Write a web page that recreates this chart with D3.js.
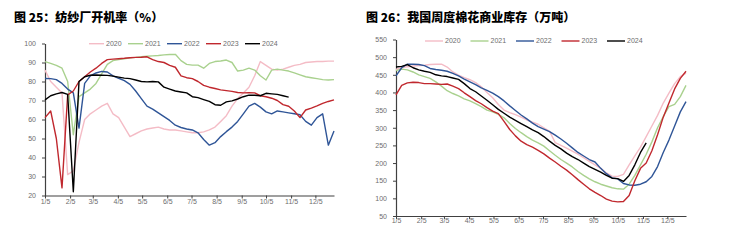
<!DOCTYPE html>
<html lang="zh">
<head>
  <meta charset="UTF-8">
  <title>纺纱厂开机率 / 棉花商业库存</title>
  <style>
    body { margin: 0; background: #fff; }
    svg text { font-family: "Liberation Sans", Arial, sans-serif; }
    .title { font-family: "Noto Sans CJK SC", sans-serif !important; font-weight: 900; font-size: 12px; fill: #000; }
  </style>
</head>
<body>
  <script src="https://d3js.org/d3.v7.min.js"></script>
  <script>
    const years = ["2020", "2021", "2022", "2023", "2024"];
    const colors = ["#f4bcc6", "#a9d18e", "#2f5597", "#c0282e", "#000000"];
    const tickLabels = ["1/5", "2/5", "3/5", "4/5", "5/5", "6/5", "7/5", "8/5", "9/5", "10/5", "11/5", "12/5"];

    // 纺纱厂开机率（%），weekly from 1/5
    const rate2020 = [86, 80, 77, 74, 31, 33, 48, 60, 63, 65, 67, 68.5, 63, 61, 56, 51, 52.5, 54, 55, 55.5, 56, 55, 54.5, 54.5, 54, 53.5,
      53, 53, 53.5, 54.5, 56, 59, 62, 67, 71, 74, 77, 83, 90.5, 88.5, 86.5, 86, 86.5, 87.5, 88.5, 89, 90, 90.3, 90.5, 90.5, 90.7, 90.7];
    const rate2021 = [90.5, 89.5, 88.5, 87, 80, 52, 72, 74, 76, 79, 84, 89, 91, 91.5, 92, 92.5, 92.7, 93, 93.3, 93.5, 93.7, 94, 94.2, 94.3, 91, 89,
      88.6, 88.6, 87, 89.5, 90.5, 90.8, 91.3, 90, 85.5, 86, 87, 86, 83, 80.8, 86, 86.5, 86, 85.5, 84.5, 83.5, 82.5, 82, 81.5, 81, 80.8, 81];
    const rate2022 = [81.6, 81.5, 81, 79, 76, 74, 55.5, 79, 83, 84.5, 85.3, 85, 83, 81.7, 80.5, 78.5, 75, 71, 67, 65.5, 63.5, 61.5, 59.5, 57, 55.8, 55,
      54.5, 53, 49.5, 46.5, 47.8, 51, 53.6, 56, 59, 63, 67, 68.5, 66.5, 64, 63, 64.5, 64, 63.5, 63, 62.5, 59, 57, 61, 63, 46.5, 54];
    const rate2023 = [61, 64.5, 50, 24, 73, 75, 80, 82.5, 85, 87, 89.5, 91.5, 91.8, 92, 92.2, 92.5, 92.7, 92.8, 93, 91.5, 90.5, 90, 88.5, 87.5, 83, 82,
      81.5, 80, 78, 77, 76.3, 75.6, 75.2, 74.8, 74.2, 74, 74.1, 74, 72.5, 72, 71.2, 70, 67.8, 67, 64.5, 61, 65, 66, 67.2, 68.5, 69.5, 70.3];
    const rate2024 = [70.3, 72.5, 73.5, 74.2, 73.2, 22, 80, 82.5, 83.3, 83.4, 83.3, 83.2, 82.8, 82.3, 81.8, 81.5, 80.8, 80, 79.8, 80, 79.8, 77,
      76, 75, 74.5, 74, 72, 71.5, 70.5, 69.5, 67.8, 67.5, 69.3, 69.8, 70.8, 72, 72.8, 72.8, 72.5, 73.8, 73.5, 73.2, 72.5, 71.8];

    // 我国周度棉花商业库存（万吨），weekly from 1/5
    const stock2020 = [465, 470, 473, 475, 476, 477, 479, 480, 480, 472, 458, 449, 442, 436, 428, 416, 400, 385, 366, 350, 343, 337, 330, 322, 316, 310,
      300, 290, 258, 250, 242, 234, 225, 215, 205, 195, 185, 172, 163, 162, 168, 195, 220, 245, 275, 305, 335, 370, 398, 425, 445, 455];
    const stock2021 = [462, 466, 464, 458, 450, 445, 440, 430, 418, 405, 397, 390, 382, 376, 368, 360, 350, 345, 338, 328, 312, 298, 286, 275, 265, 257,
      248, 235, 222, 210, 200, 189, 176, 165, 155, 147, 140, 135, 130, 127, 126, 140, 165, 195, 225, 260, 300, 332, 360, 366, 388, 420];
    const stock2022 = [447, 470, 480, 480, 479, 476, 468, 465, 463, 460, 454, 447, 438, 430, 422, 413, 406, 398, 388, 376, 362, 349, 336, 325, 313, 303,
      296, 289, 279, 268, 256, 243, 230, 220, 210, 203, 185, 170, 158, 155, 142, 138, 137, 140, 147, 162, 190, 230, 265, 305, 345, 374];
    const stock2023 = [393, 420, 427, 429, 428, 425, 425, 424, 423, 424, 418, 411, 399, 388, 377, 368, 357, 347, 340, 318, 295, 277, 262, 252, 245, 236,
      226, 214, 203, 191, 180, 167, 153, 140, 127, 117, 108, 98, 92, 90, 91, 108, 150, 185, 200, 235, 280, 330, 370, 410, 440, 460];
    const stock2024 = [472, 474, 479, 470, 464, 460, 457, 450, 447, 445, 441, 437, 425, 411, 402, 390, 378, 365, 352, 341, 330, 321, 312, 303, 294, 286,
      275, 262, 250, 240, 228, 218, 210, 200, 190, 182, 174, 165, 157, 156, 148, 165, 195, 230, 257];

    const rateYTicks = [20, 30, 40, 50, 60, 70, 80, 90, 100];
    const stockYTicks = [50, 100, 150, 200, 250, 300, 350, 400, 450, 500, 550];

    const width = 744, height = 240;
    const svg = d3.select("body").append("svg").attr("width", width).attr("height", height);

    const start = new Date(2021, 0, 5);
    const weekDate = i => d3.timeDay.offset(start, i * 7);
    const tickDates = tickLabels.map((t, i) => new Date(2021, i, 5));

    function drawChart(opt) {
      const x = d3.scaleTime().domain([start, weekDate(51)]).range([opt.left, opt.right]);
      const y = d3.scaleLinear().domain(opt.yDomain).range([opt.bottom, opt.top]);

      svg.append("text").attr("class", "title")
        .attr("x", opt.titleX).attr("y", 22).text(opt.title);

      const gx = svg.append("g")
        .attr("transform", "translate(0," + opt.bottom + ")")
        .call(d3.axisBottom(x).tickValues(tickDates).tickFormat((d, i) => tickLabels[i]).tickSize(3).tickSizeOuter(0));
      const gy = svg.append("g")
        .attr("transform", "translate(" + opt.left + ",0)")
        .call(d3.axisLeft(y).tickValues(opt.yTicks).tickSize(3).tickSizeOuter(0));
      [gx, gy].forEach(g => {
        g.select(".domain").attr("stroke", "#404040").attr("stroke-width", 1.2);
        g.selectAll(".tick line").attr("stroke", "#404040");
        g.selectAll(".tick text").attr("fill", "#6d6d6d").style("font-size", "7px");
      });
      gx.selectAll(".tick text").attr("y", opt.xLabelY).attr("dy", "0.35em");
      gy.selectAll(".tick text").attr("dx", "-3px");

      const line = d3.line()
        .x((d, i) => x(weekDate(i)))
        .y(d => y(d));

      opt.series.forEach((s, k) => {
        svg.append("path")
          .datum(s)
          .attr("fill", "none")
          .attr("stroke", colors[k])
          .attr("stroke-width", 1.4)
          .attr("stroke-linejoin", "round")
          .attr("d", line);
      });

      const lg = svg.append("g");
      years.forEach((yr, k) => {
        const lx = opt.legendX + k * opt.legendStep;
        lg.append("line")
          .attr("x1", lx).attr("x2", lx + opt.legendLen)
          .attr("y1", opt.legendY).attr("y2", opt.legendY)
          .attr("stroke", colors[k]).attr("stroke-width", 1.4);
        lg.append("text")
          .attr("x", lx + opt.legendLen + 2).attr("y", opt.legendY)
          .attr("dy", "0.35em")
          .attr("fill", "#6d6d6d")
          .style("font-size", "7px")
          .text(yr);
      });
    }

    drawChart({
      title: "图 25：纺纱厂开机率（%）", titleX: 14,
      left: 45, right: 334, top: 43.5, bottom: 195.5,
      yDomain: [20, 100], yTicks: rateYTicks, xLabelY: 6.5,
      series: [rate2020, rate2021, rate2022, rate2023, rate2024],
      legendX: 89, legendStep: 39, legendLen: 15, legendY: 43.7
    });

    drawChart({
      title: "图 26：我国周度棉花商业库存（万吨）", titleX: 366,
      left: 396, right: 686, top: 39.5, bottom: 216,
      yDomain: [50, 550], yTicks: stockYTicks, xLabelY: 5,
      series: [stock2020, stock2021, stock2022, stock2023, stock2024],
      legendX: 425, legendStep: 45.5, legendLen: 18, legendY: 41
    });
  </script>
</body>
</html>
